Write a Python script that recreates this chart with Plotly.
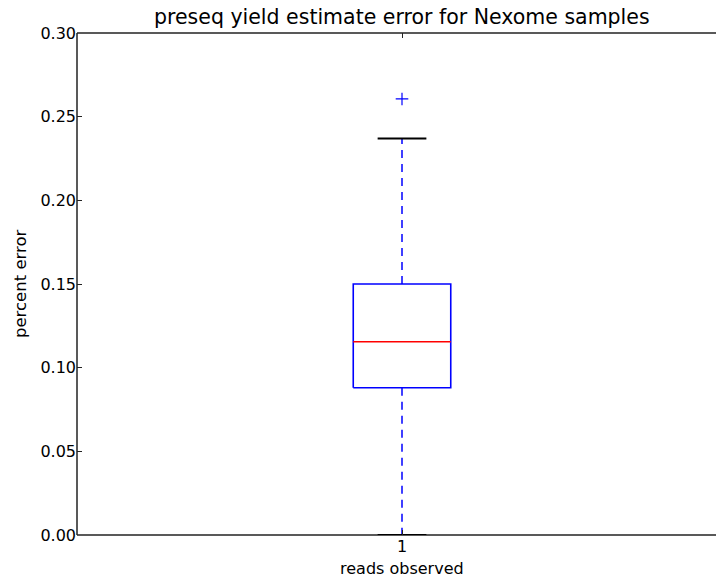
import plotly.graph_objects as go

# ---- data ----
positions = [1]
tick_labels = ["1"]
q1 = [0.088]
median = [0.1155]
q3 = [0.150]
whisker_low = [0.000]
whisker_high = [0.237]
fliers = [[0.2606]]

title_text = "preseq yield estimate error for Nexome samples"
x_title = "reads observed"
y_title = "percent error"

box_width = 0.15
cap_width = box_width / 2

BLUE = "#0000ff"
RED = "#ff0000"
BLACK = "#000000"
SPINE = "#222222"
FONT = "DejaVu Sans"

fig = go.Figure()
for i, p in enumerate(positions):
    l, r = p - box_width / 2, p + box_width / 2
    # whiskers (dashed)
    fig.add_trace(go.Scatter(x=[p, p], y=[q3[i], whisker_high[i]], mode="lines",
                             line=dict(color=BLUE, width=1.5, dash="8px,6px"),
                             hoverinfo="skip", showlegend=False))
    fig.add_trace(go.Scatter(x=[p, p], y=[q1[i], whisker_low[i]], mode="lines",
                             line=dict(color=BLUE, width=1.5, dash="8px,6px"),
                             hoverinfo="skip", showlegend=False))
    # caps
    for w in (whisker_low[i], whisker_high[i]):
        fig.add_trace(go.Scatter(x=[p - cap_width / 2, p + cap_width / 2], y=[w, w],
                                 mode="lines", line=dict(color=BLACK, width=2),
                                 cliponaxis=False,
                                 hoverinfo="skip", showlegend=False))
    # box
    fig.add_trace(go.Scatter(x=[l, r, r, l, l], y=[q1[i], q1[i], q3[i], q3[i], q1[i]],
                             mode="lines", line=dict(color=BLUE, width=1.6),
                             hoverinfo="skip", showlegend=False))
    # median
    fig.add_trace(go.Scatter(x=[l, r], y=[median[i], median[i]], mode="lines",
                             line=dict(color=RED, width=1.3),
                             hoverinfo="skip", showlegend=False))
    # fliers
    fig.add_trace(go.Scatter(x=[p] * len(fliers[i]), y=fliers[i], mode="markers",
                             marker=dict(symbol="cross-thin", size=9,
                                         line=dict(color=BLUE, width=1.2)),
                             hoverinfo="skip", showlegend=False))

W, H = 716, 577
ML, MT, MB = 77, 33, 42
plot_w = W - ML
px_per_unit = 650.0
x_max = 0.5 + plot_w / px_per_unit
center_paper = (1 - 0.5) * px_per_unit / plot_w

spine = dict(color=SPINE, width=1.5)
fig.update_layout(
    width=W, height=H, autosize=False,
    margin=dict(l=ML, r=0, t=MT, b=MB, pad=0),
    paper_bgcolor="white", plot_bgcolor="white",
    font=dict(family=FONT, size=16, color="#000000"),
    xaxis=dict(range=[0.5, x_max], tickvals=positions, ticktext=tick_labels,
               showgrid=False, zeroline=False, showline=False,
               ticks="inside", ticklen=5, tickwidth=1, tickcolor=SPINE,
               tickfont=dict(size=16, family=FONT)),
    yaxis=dict(range=[0, 0.30], tickvals=[0, 0.05, 0.10, 0.15, 0.20, 0.25, 0.30],
               ticktext=["0.00", "0.05", "0.10", "0.15", "0.20", "0.25", "0.30"],
               showgrid=False, zeroline=False, showline=False,
               ticks="inside", ticklen=5, tickwidth=1, tickcolor=SPINE,
               tickfont=dict(size=16, family=FONT)),
    xaxis2=dict(overlaying="x", side="top", matches="x", tickvals=positions,
                ticktext=[""] * len(positions), showgrid=False, zeroline=False,
                showline=False, ticks="inside", ticklen=5, tickwidth=1,
                tickcolor=SPINE),
    shapes=[
        dict(type="line", xref="paper", yref="paper", x0=0, x1=0, y0=0, y1=1,
             line=spine, layer="below"),
        dict(type="line", xref="paper", yref="paper", x0=0, x1=1.01, y0=0, y1=0,
             line=spine, layer="below"),
        dict(type="line", xref="paper", yref="paper", x0=0, x1=1.01, y0=1, y1=1,
             line=spine, layer="below"),
    ],
    annotations=[
        dict(text=title_text, xref="paper", yref="paper", x=center_paper, y=1,
             xanchor="center", yanchor="bottom", yshift=2, showarrow=False,
             font=dict(size=20.5, family=FONT)),
        dict(text=x_title, xref="paper", yref="paper", x=center_paper, y=0,
             xanchor="center", yanchor="middle", yshift=-33, showarrow=False,
             font=dict(size=16, family=FONT)),
        dict(text=y_title, xref="paper", yref="paper", x=0, y=0.5,
             xanchor="center", yanchor="middle", xshift=-57, textangle=-90,
             showarrow=False, font=dict(size=16.5, family=FONT)),
    ],
)
# invisible trace to activate the top axis for mirrored tick marks
fig.add_trace(go.Scatter(x=[positions[0]], y=[None], xaxis="x2", mode="markers",
                         hoverinfo="skip", showlegend=False))

fig.write_html("out.html")
